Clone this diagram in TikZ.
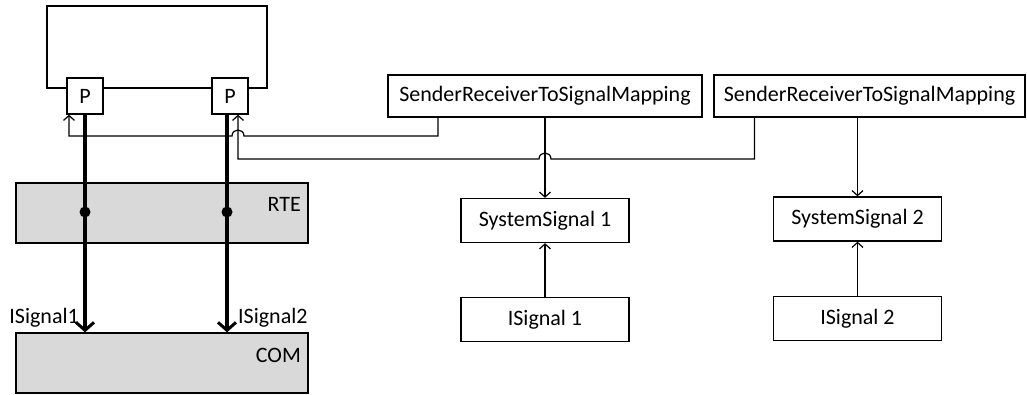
\documentclass[tikz,border=0pt]{standalone}
\usepackage{fontspec}
\setmainfont{Carlito}
\usetikzlibrary{arrows.meta, positioning}
\definecolor{layer}{HTML}{D9D9D9}

\begin{document}
\begin{tikzpicture}[
    x=1pt, y=-1pt,
    font=\fontsize{22}{26}\selectfont,
    >={Straight Barb[length=5pt, width=11pt]},
    box/.style={draw, line width=1.3pt, fill=white, inner sep=0pt, minimum width=168pt, minimum height=44pt},
    mapbox/.style={box, minimum height=42pt},
    port/.style={draw, line width=1.3pt, fill=white, inner sep=0pt, minimum size=36pt},
    layerbox/.style={draw, line width=1.3pt, fill=layer, minimum width=292pt, minimum height=60pt},
    lab/.style={inner sep=0pt},
    sig/.style={->, line width=1.2pt},
    data/.style={-{Straight Barb[length=8pt, width=18pt, line width=3pt]}, line width=3.2pt},
    dot/.style={circle, fill, inner sep=0pt, minimum size=11pt},
  ]
  \useasboundingbox (0,0) rectangle (1027,394);
  % ---- component with its ports
  \node[draw, line width=1.3pt, minimum width=220pt, minimum height=82pt] (swc) at (157,47) {};
  \node[port] (p1) at (85,96) {P};
  \node[port] (p2) at (230,96) {P};
  % ---- layers
  \node[layerbox] (rte) at (162,213) {};
  \node[layerbox] (com) at (162,363) {};
  \node[lab, anchor=base east] (rtelab) at (301,211) {RTE};
  \node[lab, anchor=base east] (comlab) at (301,362) {COM};
  % ---- mappings and signals
  \node[mapbox, minimum width=314pt] (map1) at (545,96) {SenderReceiverToSignalMapping};
  \node[mapbox, minimum width=311pt] (map2) at (869.5,96) {SenderReceiverToSignalMapping};
  \node[box] (ss1) at (545,220.5) {SystemSignal 1};
  \node[box, below=54pt of ss1] (is1) {ISignal 1};
  \node[box] (ss2) at (857.5,219) {SystemSignal 2};
  \node[box, below=54pt of ss2] (is2) {ISignal 2};
  % ---- arrows
  \draw[sig] (map1.south) -- (ss1.north);
  \draw[sig] (is1.north) -- (ss1.south);
  \draw[sig] (map2.south -| ss2.north) -- (ss2.north);
  \draw[sig] (is2.north) -- (ss2.south);
  \coordinate (m1out) at ([xshift=-107pt]map1.south);
  \coordinate (m2out) at ([xshift=-115pt]map2.south);
  \coordinate (p1in) at ([xshift=-16pt]p1.south);
  \coordinate (p2in) at ([xshift=8pt]p2.south);
  \coordinate (p2out) at ([xshift=-3pt]p2.south);
  \draw[sig] (m1out) |- (244,136) .. controls (244,128) and (232,128) .. (232,136) -| (p1in);
  \draw[sig] (m2out) |- (551,159) .. controls (551,151) and (539,151) .. (539,159) -| (p2in);
  \draw[data] (p1.south) -- (p1.south |- com.north);
  \draw[data] (p2out) -- (p2out |- com.north);
  \node[dot] (d1) at (p1.south |- 0,212) {};
  \node[dot] (d2) at (p2out |- 0,212) {};
  % ---- signal names
  \node[lab, anchor=base east] (sig1) at (79,323) {ISignal1};
  \node[lab, anchor=base west] (sig2) at (238,323) {ISignal2};
\end{tikzpicture}
\end{document}
